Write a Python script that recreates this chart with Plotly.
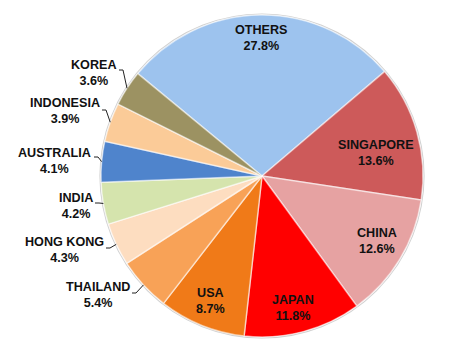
import plotly.graph_objects as go
import math

# ---- data ----
countries = ["OTHERS", "SINGAPORE", "CHINA", "JAPAN", "USA", "THAILAND",
             "HONG KONG", "INDIA", "AUSTRALIA", "INDONESIA", "KOREA"]
shares = [27.8, 13.6, 12.6, 11.8, 8.7, 5.4, 4.3, 4.2, 4.1, 3.9, 3.6]
colors = ["#9DC3EE", "#CD5A5A", "#E6A2A2", "#FF0000", "#F07A18", "#F8A257",
          "#FDDDC0", "#D5E4AD", "#4F84CC", "#FBCB98", "#9C9262"]

W, H = 471, 350
CX, CY, R = 262, 176, 161
ROT = -50.5

# label positions (pixels), and leader-line anchors for outside labels
label_pos = {
    "OTHERS": (261, 38), "SINGAPORE": (376, 153), "CHINA": (377, 241),
    "JAPAN": (293, 308), "USA": (210, 301), "THAILAND": (98, 295),
    "HONG KONG": (64, 250), "INDIA": (76, 206), "AUSTRALIA": (54, 161),
    "INDONESIA": (65, 111), "KOREA": (93, 73),
}
leader_start = {
    "KOREA": (119, 70), "INDONESIA": (102, 110), "AUSTRALIA": (94, 157),
    "INDIA": (95, 203), "HONG KONG": (106, 248), "THAILAND": (132, 293),
}

def px(x):
    return x / W

def py(y):
    return 1 - y / H

fig = go.Figure(go.Pie(
    labels=countries, values=shares, sort=False, direction="clockwise",
    rotation=ROT, textinfo="none", hoverinfo="label+percent",
    marker=dict(colors=colors, line=dict(color="rgba(255,255,255,0.55)", width=1.5)),
    domain=dict(x=[px(CX - R), px(CX + R)], y=[py(CY + R), py(CY - R)]),
    showlegend=False,
))

total = sum(shares)
start = ROT
annotations = []
shapes = [dict(type="circle", xref="paper", yref="paper", layer="below",
               x0=px(CX - R - 1), x1=px(CX + R + 1), y0=py(CY + R + 1), y1=py(CY - R - 1),
               line=dict(color="rgba(150,150,150,0.45)", width=1.2))]
for name, v in zip(countries, shares):
    span = v / total * 360
    mid = math.radians(start + span / 2)
    start += span
    x, y = label_pos[name]
    annotations.append(dict(
        x=px(x), y=py(y), xref="paper", yref="paper", showarrow=False,
        text=f"<b>{name}<br>{v:.1f}%</b>", align="center",
        xanchor="center", yanchor="middle",
        font=dict(family="Liberation Sans, Arial", size=12.6, color="#111111"),
    ))
    if name in leader_start:
        sx, sy = leader_start[name]
        ex = CX + R * math.sin(mid)
        ey = CY - R * math.cos(mid)
        path = f"M {px(sx)} {py(sy)} L {px(sx + 4)} {py(sy)} L {px(ex)} {py(ey)}"
        shapes.append(dict(type="path", xref="paper", yref="paper", path=path,
                           line=dict(color="#222222", width=1)))

fig.update_layout(
    width=W, height=H, margin=dict(l=0, r=0, t=0, b=0),
    paper_bgcolor="white", plot_bgcolor="white",
    annotations=annotations, shapes=shapes,
    font=dict(family="Liberation Sans, Arial", size=12, color="#111111"),
)

fig.write_html("out.html")
